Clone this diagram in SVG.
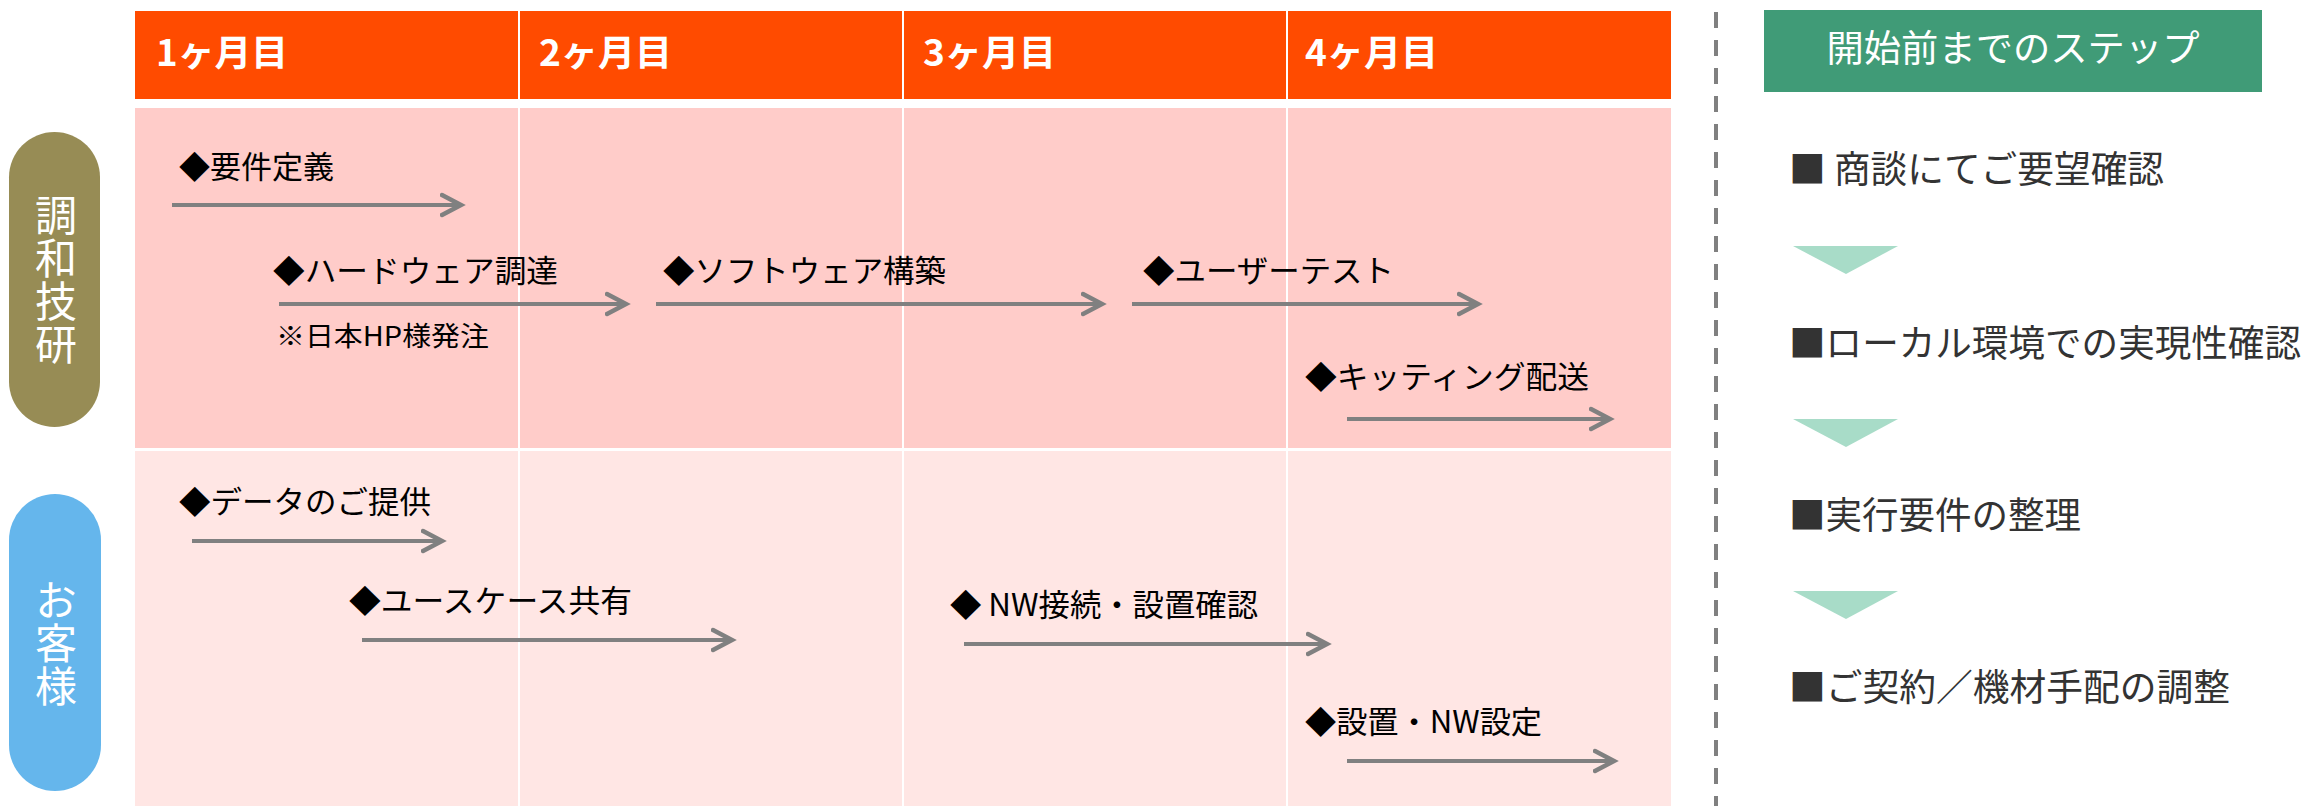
<svg xmlns="http://www.w3.org/2000/svg" width="2308" height="806" viewBox="0 0 2308 806">
<style>
.hdr{font-family:"Noto Sans CJK JP","Noto Sans",sans-serif;font-weight:bold;font-size:36px;fill:#ffffff}
.lbl{font-family:"Noto Sans CJK JP","Noto Sans",sans-serif;font-size:31px;fill:#000000}
.note{font-family:"Noto Sans CJK JP","Noto Sans",sans-serif;font-size:27px;fill:#000000}
.pill{font-family:"Noto Sans CJK JP","Noto Sans",sans-serif;font-size:42px;fill:#ffffff;writing-mode:vertical-rl;letter-spacing:1px}
.step{font-family:"Noto Sans CJK JP","Noto Sans",sans-serif;font-size:37px;fill:#333333}
.title{font-family:"Noto Sans CJK JP","Noto Sans",sans-serif;font-size:37px;fill:#ffffff;text-anchor:middle}
.arr{stroke:#808080;stroke-width:4;fill:none;marker-end:url(#chev)}
.div{stroke:#ffffff;stroke-width:2}
.tri{fill:#A8DCC8}
</style>
<defs>
<marker id="chev" markerUnits="userSpaceOnUse" markerWidth="30" markerHeight="30" refX="21" refY="12" orient="auto" viewBox="0 0 30 24">
<path d="M2,2 L21,12 L2,22" fill="none" stroke="#808080" stroke-width="4.5" stroke-linecap="round" stroke-linejoin="miter"/>
</marker>
</defs>
<rect width="2308" height="806" fill="#ffffff"/>

<g id="grid">
<rect x="135" y="11" width="1536" height="88" fill="#FF4B00"/>
<rect x="135" y="108" width="1536" height="340" fill="#FFCCC9"/>
<rect x="135" y="451" width="1536" height="355" fill="#FFE6E4"/>
<line class="div" x1="519" y1="11" x2="519" y2="806"/>
<line class="div" x1="903" y1="11" x2="903" y2="806"/>
<line class="div" x1="1287" y1="11" x2="1287" y2="806"/>
</g>

<g id="header">
<text class="hdr" x="156" y="66" textLength="132" lengthAdjust="spacingAndGlyphs">1ヶ月目</text>
<text class="hdr" x="539" y="66" textLength="133" lengthAdjust="spacingAndGlyphs">2ヶ月目</text>
<text class="hdr" x="923" y="66" textLength="133" lengthAdjust="spacingAndGlyphs">3ヶ月目</text>
<text class="hdr" x="1305" y="66" textLength="133" lengthAdjust="spacingAndGlyphs">4ヶ月目</text>
</g>

<g id="lane-chowa">
<rect x="9" y="132" width="91" height="295" rx="45.5" ry="45.5" fill="#978C55"/>
<text class="pill" x="56" y="194">調和技研</text>
</g>

<g id="lane-customer">
<rect x="9" y="494" width="92" height="297" rx="46" ry="46" fill="#65B6EC"/>
<text class="pill" x="56" y="579">お客様</text>
</g>

<g id="task-youken"><text class="lbl" x="179" y="178" textLength="155" lengthAdjust="spacingAndGlyphs">◆要件定義</text></g>
<g id="task-hardware">
<text class="lbl" x="273" y="282" textLength="285" lengthAdjust="spacingAndGlyphs">◆ハードウェア調達</text>
<text class="note" x="276" y="346" textLength="213" lengthAdjust="spacingAndGlyphs">※日本HP様発注</text>
</g>
<g id="task-software"><text class="lbl" x="663" y="282" textLength="283" lengthAdjust="spacingAndGlyphs">◆ソフトウェア構築</text></g>
<g id="task-usertest"><text class="lbl" x="1143" y="282" textLength="251" lengthAdjust="spacingAndGlyphs">◆ユーザーテスト</text></g>
<g id="task-kitting"><text class="lbl" x="1305" y="388" textLength="284" lengthAdjust="spacingAndGlyphs">◆キッティング配送</text></g>
<g id="task-data"><text class="lbl" x="179" y="513" textLength="252" lengthAdjust="spacingAndGlyphs">◆データのご提供</text></g>
<g id="task-usecase"><text class="lbl" x="349" y="612" textLength="283" lengthAdjust="spacingAndGlyphs">◆ユースケース共有</text></g>
<g id="task-nw"><text class="lbl" x="950" y="616" textLength="308" lengthAdjust="spacingAndGlyphs">◆ NW接続・設置確認</text></g>
<g id="task-setup"><text class="lbl" x="1305" y="733" textLength="237" lengthAdjust="spacingAndGlyphs">◆設置・NW設定</text></g>

<g id="connectors">
<line class="arr" x1="172" y1="205" x2="461" y2="205"/>
<line class="arr" x1="279" y1="304" x2="626" y2="304"/>
<line class="arr" x1="656" y1="304" x2="1102" y2="304"/>
<line class="arr" x1="1132" y1="304" x2="1478" y2="304"/>
<line class="arr" x1="1347" y1="419" x2="1610" y2="419"/>
<line class="arr" x1="192" y1="541" x2="442" y2="541"/>
<line class="arr" x1="362" y1="640" x2="732" y2="640"/>
<line class="arr" x1="964" y1="644" x2="1327" y2="644"/>
<line class="arr" x1="1347" y1="761" x2="1614" y2="761"/>
</g>

<g id="separator">
<line x1="1716" y1="12" x2="1716" y2="806" stroke="#808080" stroke-width="4" stroke-dasharray="16 12"/>
</g>

<g id="steps-title">
<rect x="1764" y="10" width="498" height="82" fill="#409B77"/>
<text class="title" x="2013" y="62" textLength="373" lengthAdjust="spacingAndGlyphs">開始前までのステップ</text>
</g>
<g id="step1"><text class="step" x="1789" y="183" textLength="375" lengthAdjust="spacingAndGlyphs">■ 商談にてご要望確認</text></g>
<g id="arrow1"><polygon class="tri" points="1793,246 1898,246 1846,274"/></g>
<g id="step2"><text class="step" x="1789" y="357" textLength="512" lengthAdjust="spacingAndGlyphs">■ローカル環境での実現性確認</text></g>
<g id="arrow2"><polygon class="tri" points="1793,419 1898,419 1846,447"/></g>
<g id="step3"><text class="step" x="1789" y="529" textLength="292" lengthAdjust="spacingAndGlyphs">■実行要件の整理</text></g>
<g id="arrow3"><polygon class="tri" points="1793,591 1898,591 1846,619"/></g>
<g id="step4"><text class="step" x="1789" y="701" textLength="441" lengthAdjust="spacingAndGlyphs">■ご契約／機材手配の調整</text></g>
</svg>
